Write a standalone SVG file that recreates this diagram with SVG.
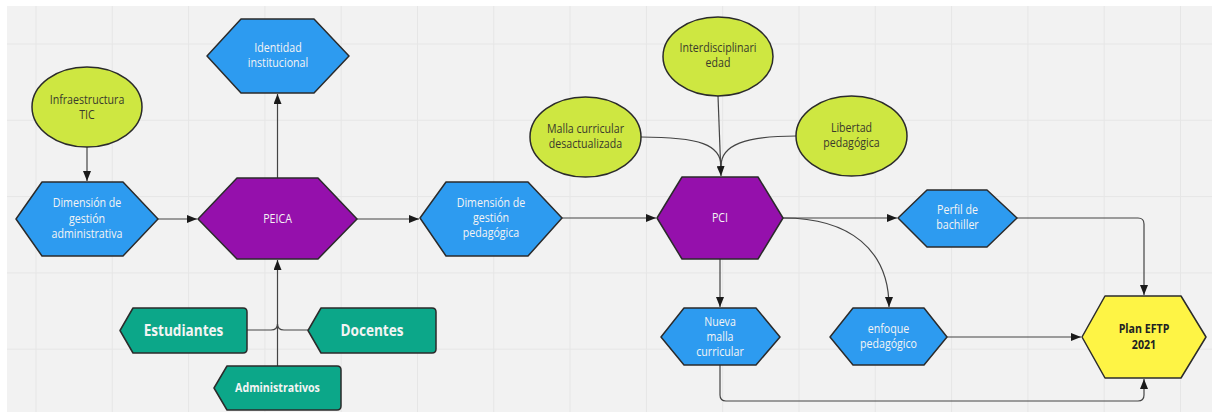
<svg xmlns="http://www.w3.org/2000/svg" width="1212" height="412" viewBox="0 0 1212 412">
  <defs>
    <marker id="arrow" markerWidth="10" markerHeight="8" refX="10" refY="4" orient="auto" markerUnits="userSpaceOnUse">
      <path d="M0,0 L10,4 L0,8 z" fill="#1a1a1a"/>
    </marker>
    <style>
      .grid { stroke: #e6e6e6; stroke-width: 1; }
      .blue { fill: #2d9bf0; stroke: #2b2b2b; stroke-width: 1.5; stroke-linejoin: round; }
      .purple { fill: #9510ac; stroke: #2b2b2b; stroke-width: 1.5; stroke-linejoin: round; }
      .lime { fill: #cee741; stroke: #2b2b2b; stroke-width: 1.5; }
      .teal { fill: #0ca789; stroke: #2b2b2b; stroke-width: 1.5; stroke-linejoin: round; }
      .yellow { fill: #fef445; stroke: #2b2b2b; stroke-width: 1.5; stroke-linejoin: round; }
      .t { font-family: "Open Sans", "Noto Sans", "DejaVu Sans", sans-serif; font-size: 12.5px; text-anchor: middle;
           transform-box: fill-box; transform-origin: center; transform: scaleX(0.85); }
      .tw { fill: #f4f4f4; }
      .td { fill: #3a3a2c; }
      .tb { font-weight: bold; }
      .big { font-size: 16px; }
      .conn { fill: none; stroke: #444444; stroke-width: 1.2; }
      .arr { marker-end: url(#arrow); }
    </style>
  </defs>

  <!-- canvas -->
  <rect x="0" y="0" width="1212" height="412" fill="#ffffff"/>
  <rect x="7" y="6" width="1205" height="406" fill="#f2f2f2"/>
  <g id="grid">
    <line class="grid" x1="36" y1="6" x2="36" y2="412"/>
    <line class="grid" x1="112.3" y1="6" x2="112.3" y2="412"/>
    <line class="grid" x1="188.6" y1="6" x2="188.6" y2="412"/>
    <line class="grid" x1="264.9" y1="6" x2="264.9" y2="412"/>
    <line class="grid" x1="341.2" y1="6" x2="341.2" y2="412"/>
    <line class="grid" x1="417.5" y1="6" x2="417.5" y2="412"/>
    <line class="grid" x1="493.8" y1="6" x2="493.8" y2="412"/>
    <line class="grid" x1="570" y1="6" x2="570" y2="412"/>
    <line class="grid" x1="646.4" y1="6" x2="646.4" y2="412"/>
    <line class="grid" x1="722.7" y1="6" x2="722.7" y2="412"/>
    <line class="grid" x1="799" y1="6" x2="799" y2="412"/>
    <line class="grid" x1="875.3" y1="6" x2="875.3" y2="412"/>
    <line class="grid" x1="951.6" y1="6" x2="951.6" y2="412"/>
    <line class="grid" x1="1027.9" y1="6" x2="1027.9" y2="412"/>
    <line class="grid" x1="1104.2" y1="6" x2="1104.2" y2="412"/>
    <line class="grid" x1="1180.5" y1="6" x2="1180.5" y2="412"/>
    <line class="grid" x1="7" y1="44" x2="1212" y2="44"/>
    <line class="grid" x1="7" y1="120.3" x2="1212" y2="120.3"/>
    <line class="grid" x1="7" y1="196.6" x2="1212" y2="196.6"/>
    <line class="grid" x1="7" y1="272.9" x2="1212" y2="272.9"/>
    <line class="grid" x1="7" y1="349.2" x2="1212" y2="349.2"/>
  </g>

  <!-- connectors -->
  <g id="connectors">
    <path class="conn arr" d="M87,147 V181"/>
    <path class="conn arr" d="M158,219 H197"/>
    <path class="conn arr" d="M277.5,178 V94"/>
    <path class="conn arr" d="M277.5,366 V260"/>
    <path class="conn" d="M247,330 H271 Q277.5,330 277.5,324"/>
    <path class="conn" d="M308,330 H284 Q277.5,330 277.5,324"/>
    <path class="conn arr" d="M357,219 H419"/>
    <path class="conn arr" d="M562,218 H656"/>
    <path class="conn arr" d="M718,96 L721,176"/>
    <path class="conn" d="M641,137 C700,137 721,145 721,166"/>
    <path class="conn" d="M796,136 C745,136 721,145 721,166"/>
    <path class="conn arr" d="M783,218 H897"/>
    <path class="conn arr" d="M783,218 C850,218 889,250 889,307"/>
    <path class="conn arr" d="M720,259 V307"/>
    <path class="conn arr" d="M1017,218 H1138 Q1144,218 1144,224 V295"/>
    <path class="conn arr" d="M947,337 H1081"/>
    <path class="conn arr" d="M720,365 V395 Q720,401 726,401 H1138 Q1144,401 1144,395 V379"/>
  </g>

  <!-- nodes -->
  <g id="infraestructura">
    <ellipse class="lime" cx="87" cy="107" rx="55" ry="40"/>
    <text class="t td" x="87" y="104">Infraestructura</text>
    <text class="t td" x="87" y="119">TIC</text>
  </g>

  <g id="dim-administrativa">
    <polygon class="blue" points="16,219 42,182 123,182 158,219 123,256 42,256"/>
    <text class="t tw" x="87" y="207">Dimensión de</text>
    <text class="t tw" x="87" y="223">gestión</text>
    <text class="t tw" x="87" y="238">administrativa</text>
  </g>

  <g id="peica">
    <polygon class="purple" points="198,219 237,178 318,178 357,219 318,259 237,259"/>
    <text class="t tw" x="277.5" y="223">PEICA</text>
  </g>

  <g id="identidad">
    <polygon class="blue" points="207,56 241,19 314,19 349,56 314,93 241,93"/>
    <text class="t tw" x="278" y="52">Identidad</text>
    <text class="t tw" x="278" y="67">institucional</text>
  </g>

  <g id="estudiantes">
    <path class="teal" d="M133,308 H243 Q247,308 247,312 V349 Q247,353 243,353 H133 L120,330.5 Z"/>
    <text class="t tw tb big" x="183.5" y="336">Estudiantes</text>
  </g>

  <g id="docentes">
    <path class="teal" d="M321,308 H432 Q436,308 436,312 V349 Q436,353 432,353 H321 L308,330.5 Z"/>
    <text class="t tw tb big" x="372" y="336">Docentes</text>
  </g>

  <g id="administrativos">
    <path class="teal" d="M227,366 H337 Q341,366 341,370 V406 Q341,410 337,410 H227 L214,388 Z"/>
    <text class="t tw tb" x="277.5" y="392">Administrativos</text>
  </g>

  <g id="dim-pedagogica">
    <polygon class="blue" points="420,218 446,182 528,182 562,218 528,256 446,256"/>
    <text class="t tw" x="491" y="207">Dimensión de</text>
    <text class="t tw" x="491" y="222">gestión</text>
    <text class="t tw" x="491" y="237">pedagógica</text>
  </g>

  <g id="malla-desactualizada">
    <ellipse class="lime" cx="585.5" cy="137" rx="55.5" ry="40"/>
    <text class="t td" x="585.5" y="133">Malla curricular</text>
    <text class="t td" x="585.5" y="148">desactualizada</text>
  </g>

  <g id="interdisciplinariedad">
    <ellipse class="lime" cx="718" cy="56.5" rx="55" ry="39.5"/>
    <text class="t td" x="718" y="52">Interdisciplinari</text>
    <text class="t td" x="718" y="67">edad</text>
  </g>

  <g id="libertad">
    <ellipse class="lime" cx="851.5" cy="136" rx="55.5" ry="40"/>
    <text class="t td" x="851.5" y="132">Libertad</text>
    <text class="t td" x="851.5" y="147">pedagógica</text>
  </g>

  <g id="pci">
    <polygon class="purple" points="657,218 682,177 758,177 783,218 758,259 682,259"/>
    <text class="t tw" x="720" y="222">PCI</text>
  </g>

  <g id="perfil">
    <polygon class="blue" points="898,218 927,190 987,190 1017,218 987,247 927,247"/>
    <text class="t tw" x="957.5" y="214">Perfil de</text>
    <text class="t tw" x="957.5" y="229">bachiller</text>
  </g>

  <g id="nueva-malla">
    <polygon class="blue" points="661,337 684,308 756,308 780,337 756,365 684,365"/>
    <text class="t tw" x="720" y="326">Nueva</text>
    <text class="t tw" x="720" y="341">malla</text>
    <text class="t tw" x="720" y="356">curricular</text>
  </g>

  <g id="enfoque">
    <polygon class="blue" points="830,337 853,308 924,308 947,337 924,365 853,365"/>
    <text class="t tw" x="888.5" y="333">enfoque</text>
    <text class="t tw" x="888.5" y="348">pedagógico</text>
  </g>

  <g id="plan-eftp">
    <polygon class="yellow" points="1082,337 1105,296 1181,296 1206,337 1181,378 1105,378"/>
    <text class="t tb" x="1144" y="333" style="fill:#222">Plan EFTP</text>
    <text class="t tb" x="1144" y="349" style="fill:#222">2021</text>
  </g>
</svg>
